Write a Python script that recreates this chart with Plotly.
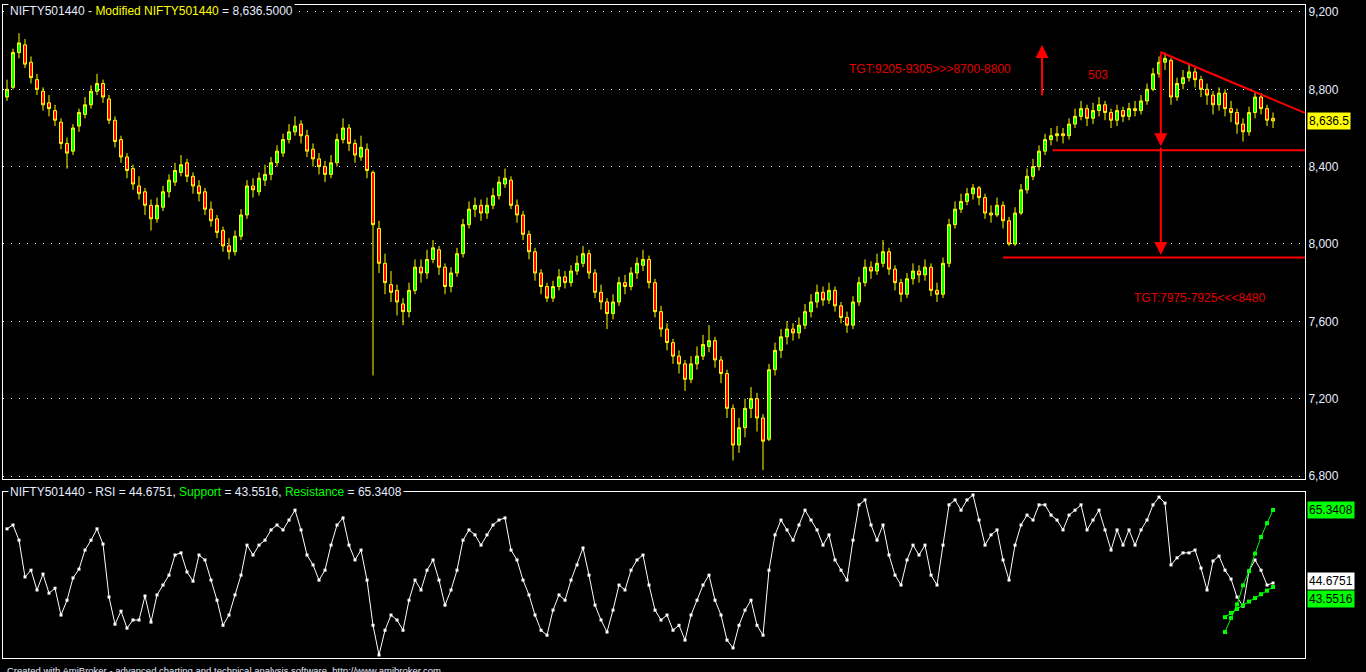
import plotly.graph_objects as go

# bar index (daily bars, oldest first)
bars = list(range(212))

open_ = [8760, 8810, 8990, 9030, 8940, 8850, 8790, 8730, 8690, 8630,
         8520, 8480, 8610, 8670, 8720, 8790, 8830, 8750, 8640, 8540,
         8450, 8390, 8300, 8270, 8200, 8130, 8190, 8270, 8320, 8370,
         8420, 8350, 8300, 8270, 8180, 8130, 8070, 7990, 7960, 8040,
         8150, 8300, 8270, 8330, 8360, 8420, 8470, 8540, 8580, 8620,
         8560, 8490, 8440, 8400, 8360, 8420, 8540, 8600, 8520, 8450,
         8490, 8370, 8080, 7900, 7790, 7760, 7690, 7650, 7760, 7880,
         7850, 7920, 7970, 7880, 7780, 7850, 7950, 8100, 8180, 8200,
         8160, 8200, 8250, 8310, 8330, 8200, 8150, 8050, 7960, 7850,
         7780, 7720, 7780, 7830, 7800, 7860, 7900, 7950, 7850, 7750,
         7700, 7640, 7700, 7800, 7780, 7850, 7890, 7920, 7800, 7650,
         7560, 7490, 7420, 7380, 7300, 7380, 7420, 7470, 7500, 7400,
         7330, 7150, 6960, 7050, 7150, 7200, 7100, 6990, 7350, 7450,
         7520, 7560, 7540, 7580, 7650, 7700, 7750, 7710, 7760, 7680,
         7620, 7580, 7700, 7800, 7880, 7860, 7900, 7960, 7870, 7800,
         7740, 7820, 7860, 7840, 7880, 7760, 7740, 7900, 8100, 8180,
         8220, 8260, 8290, 8240, 8160, 8150, 8200, 8120, 8000, 8160,
         8280, 8350, 8400, 8480, 8540, 8560, 8570, 8560, 8620, 8660,
         8700, 8650, 8690, 8720, 8680, 8640, 8690, 8660, 8700, 8690,
         8740, 8800, 8880, 8940, 8950, 8760, 8830, 8860, 8890, 8850,
         8800, 8770, 8720, 8780, 8700, 8680, 8620, 8580, 8680, 8760,
         8700, 8650]

high = [8850, 9010, 9090, 9060, 8970, 8880, 8810, 8770, 8720, 8650,
        8550, 8620, 8700, 8760, 8820, 8880, 8850, 8770, 8660, 8560,
        8470, 8410, 8350, 8290, 8230, 8240, 8300, 8360, 8420, 8460,
        8440, 8370, 8330, 8290, 8220, 8150, 8090, 8030, 8070, 8180,
        8330, 8340, 8370, 8410, 8450, 8510, 8570, 8620, 8660, 8640,
        8590, 8520, 8470, 8430, 8460, 8570, 8650, 8620, 8540, 8560,
        8520, 8380, 8120, 7950, 7860, 7790, 7720, 7800, 7920, 7920,
        7970, 8020, 7990, 7900, 7880, 7980, 8130, 8220, 8240, 8230,
        8240, 8290, 8350, 8390, 8350, 8230, 8170, 8070, 7980, 7870,
        7800, 7810, 7870, 7860, 7890, 7940, 7990, 7970, 7870, 7790,
        7720, 7740, 7830, 7840, 7880, 7930, 7970, 7940, 7820, 7680,
        7590, 7510, 7450, 7400, 7420, 7470, 7530, 7580, 7520, 7420,
        7350, 7170, 7100, 7200, 7260, 7230, 7120, 7380, 7490, 7560,
        7600, 7590, 7620, 7690, 7740, 7790, 7780, 7800, 7780, 7700,
        7650, 7730, 7830, 7920, 7910, 7950, 8020, 7980, 7890, 7820,
        7850, 7900, 7890, 7920, 7900, 7800, 7930, 8130, 8220, 8260,
        8290, 8310, 8300, 8260, 8200, 8240, 8220, 8140, 8190, 8310,
        8390, 8440, 8510, 8570, 8600, 8610, 8600, 8650, 8700, 8740,
        8720, 8730, 8760, 8740, 8700, 8720, 8710, 8730, 8740, 8770,
        8830, 8910, 8970, 8990, 8960, 8860, 8900, 8930, 8910, 8870,
        8830, 8790, 8810, 8800, 8740, 8700, 8650, 8710, 8790, 8780,
        8720, 8680]

low = [8740, 8800, 8960, 8910, 8830, 8770, 8690, 8660, 8610, 8490,
       8390, 8460, 8580, 8650, 8700, 8770, 8730, 8620, 8500, 8420,
       8340, 8280, 8230, 8150, 8070, 8110, 8170, 8240, 8300, 8350,
       8320, 8260, 8220, 8150, 8090, 8030, 7960, 7920, 7940, 8020,
       8130, 8240, 8250, 8300, 8330, 8400, 8450, 8520, 8560, 8520,
       8450, 8400, 8360, 8320, 8340, 8400, 8520, 8480, 8420, 8430,
       8340, 7320, 7850, 7740, 7700, 7630, 7580, 7620, 7740, 7800,
       7820, 7900, 7840, 7740, 7750, 7830, 7930, 8080, 8140, 8120,
       8130, 8180, 8230, 8290, 8180, 8110, 8020, 7920, 7810, 7740,
       7700, 7700, 7760, 7770, 7780, 7840, 7880, 7820, 7720, 7660,
       7560, 7610, 7680, 7740, 7760, 7820, 7860, 7770, 7620, 7520,
       7450, 7380, 7330, 7240, 7280, 7350, 7400, 7440, 7360, 7280,
       7100, 6880, 6920, 7000, 7100, 7030, 6830, 6980, 7320, 7410,
       7480, 7500, 7510, 7560, 7620, 7670, 7680, 7690, 7650, 7590,
       7540, 7560, 7680, 7780, 7820, 7840, 7880, 7840, 7760, 7700,
       7720, 7790, 7800, 7810, 7730, 7700, 7720, 7880, 8080, 8160,
       8200, 8230, 8200, 8130, 8110, 8140, 8080, 7990, 7990, 8150,
       8260, 8330, 8380, 8460, 8510, 8530, 8520, 8540, 8600, 8640,
       8610, 8620, 8660, 8640, 8600, 8610, 8630, 8640, 8660, 8670,
       8720, 8790, 8860, 8900, 8720, 8740, 8800, 8840, 8810, 8760,
       8720, 8670, 8690, 8660, 8630, 8570, 8530, 8560, 8650, 8670,
       8610, 8600]

close = [8800, 8990, 9040, 8930, 8860, 8800, 8720, 8700, 8640, 8520,
         8470, 8600, 8680, 8720, 8790, 8830, 8760, 8640, 8530, 8450,
         8380, 8310, 8260, 8200, 8130, 8200, 8270, 8330, 8380, 8410,
         8350, 8300, 8260, 8180, 8120, 8060, 7990, 7960, 8040, 8150,
         8300, 8280, 8340, 8360, 8420, 8480, 8540, 8580, 8610, 8560,
         8480, 8440, 8400, 8360, 8420, 8540, 8600, 8520, 8460, 8500,
         8380, 8100, 7900, 7800, 7750, 7700, 7650, 7760, 7880, 7850,
         7920, 7980, 7880, 7780, 7850, 7950, 8100, 8180, 8200, 8160,
         8200, 8250, 8320, 8340, 8200, 8150, 8050, 7960, 7850, 7780,
         7720, 7780, 7830, 7800, 7860, 7900, 7950, 7850, 7750, 7700,
         7640, 7700, 7800, 7780, 7850, 7900, 7920, 7800, 7650, 7560,
         7490, 7420, 7380, 7300, 7380, 7420, 7480, 7500, 7400, 7330,
         7150, 6960, 7050, 7150, 7200, 7100, 6980, 7350, 7450, 7520,
         7560, 7540, 7580, 7650, 7700, 7750, 7710, 7760, 7680, 7620,
         7580, 7700, 7800, 7880, 7860, 7900, 7960, 7870, 7800, 7740,
         7820, 7860, 7840, 7880, 7760, 7740, 7900, 8100, 8180, 8220,
         8260, 8290, 8240, 8160, 8150, 8200, 8120, 8000, 8160, 8280,
         8350, 8400, 8480, 8540, 8560, 8570, 8560, 8620, 8660, 8700,
         8650, 8690, 8720, 8680, 8640, 8690, 8660, 8700, 8690, 8740,
         8800, 8880, 8940, 8960, 8760, 8830, 8860, 8890, 8850, 8800,
         8770, 8720, 8780, 8700, 8680, 8620, 8580, 8680, 8760, 8700,
         8640, 8636.5]

rsi = [60.0, 61.1, 56.8, 46.4, 48.3, 42.7, 47.2, 41.8, 43.2, 35.6,
       39.8, 46.1, 48.6, 54.0, 56.8, 60.0, 55.7, 40.7, 33.0, 36.7,
       31.9, 34.2, 34.2, 41.0, 33.6, 41.3, 44.1, 46.9, 52.6, 53.2,
       47.8, 45.2, 52.6, 51.2, 45.5, 39.8, 32.7, 35.6, 41.3, 46.9,
       55.4, 52.6, 55.4, 56.8, 59.7, 61.1, 59.7, 62.5, 65.3, 59.7,
       52.6, 49.8, 45.5, 48.3, 55.4, 61.1, 63.1, 55.4, 51.2, 54.0,
       45.5, 32.7, 24.3, 31.3, 35.6, 34.2, 31.3, 39.8, 45.5, 42.7,
       48.3, 51.2, 45.5, 38.4, 42.7, 48.3, 56.8, 59.7, 58.3, 55.4,
       58.3, 61.1, 62.5, 63.1, 54.0, 51.2, 45.5, 41.3, 35.6, 31.3,
       29.9, 37.0, 41.3, 39.8, 45.5, 49.8, 54.6, 46.9, 38.4, 34.2,
       30.8, 37.0, 44.1, 42.7, 48.3, 51.2, 52.6, 44.1, 37.0, 34.2,
       35.6, 31.3, 32.7, 28.5, 35.6, 39.8, 44.1, 46.9, 39.8, 35.6,
       28.5, 26.3, 32.7, 37.0, 39.8, 32.7, 29.9, 48.3, 58.3, 62.5,
       59.7, 56.8, 61.1, 65.3, 62.5, 59.7, 55.4, 58.3, 51.2, 48.3,
       45.5, 56.8, 66.8, 68.2, 61.1, 56.8, 61.1, 52.6, 46.9, 44.1,
       51.2, 55.4, 52.6, 55.4, 46.9, 44.1, 55.4, 66.8, 68.2, 65.3,
       68.2, 69.6, 62.5, 55.4, 58.3, 59.7, 51.2, 45.5, 55.4, 61.1,
       63.9, 62.5, 66.8, 66.8, 63.9, 62.5, 59.7, 63.9, 65.3, 66.8,
       59.7, 62.5, 65.3, 59.7, 54.0, 59.7, 55.4, 59.7, 55.4, 59.7,
       62.5, 66.8, 69.0, 67.3, 49.8, 51.8, 53.2, 53.2, 54.0, 48.9,
       42.7, 50.9, 52.3, 48.3, 45.8, 40.7, 38.1, 48.1, 51.2, 48.3,
       44.1, 44.6751]

# RSI trend lines drawn over the last bars
trend_bars = [203, 204, 205, 206, 207, 208, 209, 210, 211]
resistance = [30.8, 34.8, 38.6, 44.0, 48.0, 53.0, 57.7, 61.6, 65.3408]
support = [35.0, 36.2, 37.3, 38.4, 39.4, 40.4, 41.5, 42.5, 43.5516]

price_ticks = [6800, 7200, 7600, 8000, 8400, 8800, 9200]
last_price = 8636.5
last_rsi = 44.6751

FONT = "Arial, Liberation Sans, sans-serif"
X_RANGE = [-0.667, 216.33]


def px_x(p):
    # pixel column -> paper x (plot area spans 3..1305)
    return (p - 3) / 1302


def px_y(p):
    # pixel row -> paper y (plot area spans 5..658)
    return (658 - p) / 653


fig = go.Figure()

fig.add_trace(go.Candlestick(
    x=bars, open=open_, high=high, low=low, close=close,
    increasing=dict(line=dict(color="#FFFF00", width=1), fillcolor="#00FF00"),
    decreasing=dict(line=dict(color="#FFFF00", width=1), fillcolor="#FF0000"),
    hoverinfo="skip", xaxis="x", yaxis="y"
))

fig.add_trace(go.Scatter(
    x=bars, y=rsi, mode="lines+markers",
    line=dict(color="white", width=1),
    marker=dict(symbol="square", size=3, color="white"),
    hoverinfo="skip", xaxis="x2", yaxis="y2"
))

for vals in (resistance, support):
    fig.add_trace(go.Scatter(
        x=trend_bars, y=vals, mode="lines+markers",
        line=dict(color="#00FF00", width=1),
        marker=dict(symbol="square", size=4, color="#00FF00"),
        hoverinfo="skip", xaxis="x2", yaxis="y2"
    ))

frame = dict(showline=True, mirror=True, linecolor="white", linewidth=1, zeroline=False)

fig.update_layout(
    width=1366, height=672,
    margin=dict(l=3, r=61, t=5, b=14),
    paper_bgcolor="#000000", plot_bgcolor="#000000",
    showlegend=False, hovermode=False, boxgap=0.3,
    xaxis=dict(domain=[0, 1], range=X_RANGE, anchor="y", showticklabels=False,
               showgrid=False, rangeslider=dict(visible=False), **frame),
    yaxis=dict(domain=[px_y(479), 1], range=[6784.5, 9236], side="right", anchor="x",
               tickvals=price_ticks, ticktext=[f"{v:,}" for v in price_ticks],
               tickfont=dict(family=FONT, size=12, color="#E6ECFF"), ticks="",
               showgrid=True, gridcolor="white", gridwidth=1, griddash="1px,7px", **frame),
    xaxis2=dict(domain=[0, 1], range=X_RANGE, anchor="y2", showticklabels=False,
                showgrid=False, **frame),
    yaxis2=dict(domain=[0, px_y(492)], range=[23.44, 70.44], anchor="x2",
                showticklabels=False, showgrid=False, **frame),
)

red = "#FF0000"
red_text = "#E00000"

# trend lines on the price panel
fig.add_shape(type="line", xref="x", yref="y", x0=192.2, y0=8993, x1=216.3, y1=8678,
              line=dict(color=red, width=2))
fig.add_shape(type="line", xref="x", yref="y", x0=174.3, y0=8485, x1=216.5, y1=8485,
              line=dict(color=red, width=2))
fig.add_shape(type="line", xref="x", yref="y", x0=166.0, y0=7930, x1=216.5, y1=7930,
              line=dict(color=red, width=2))

arrow = dict(xref="x", yref="y", axref="x", ayref="y", text="", showarrow=True,
             arrowhead=2, arrowsize=1.3, arrowwidth=2, arrowcolor=red)
fig.add_annotation(x=172.5, y=9029, ax=172.5, ay=8760, **arrow)
fig.add_annotation(x=192.3, y=8505, ax=192.3, ay=8993, **arrow)
fig.add_annotation(x=192.3, y=7943, ax=192.3, ay=8505, **arrow)

txt = dict(xref="x", yref="y", showarrow=False, font=dict(family=FONT, size=12, color=red_text))
fig.add_annotation(x=153.8, y=8905, text="TGT:9205-9305&gt;&gt;&gt;8700-8800", **txt)
fig.add_annotation(x=181.8, y=8874, text="503", **txt)
fig.add_annotation(x=198.8, y=7721, text="TGT:7975-7925&lt;&lt;&lt;8480", **txt)

# panel titles
fig.add_annotation(
    xref="paper", yref="paper", x=px_x(8), y=px_y(11), xanchor="left", yanchor="middle",
    text="NIFTY501440 - <span style='color:#FFFF00'>Modified NIFTY501440</span> = 8,636.5000",
    showarrow=False, bgcolor="#000000", borderpad=1,
    font=dict(family=FONT, size=12, color="#E6ECFF"))
fig.add_annotation(
    xref="paper", yref="paper", x=px_x(8), y=px_y(492), xanchor="left", yanchor="middle",
    text=("NIFTY501440 - RSI = 44.6751, <span style='color:#00FF00'>Support</span> = 43.5516, "
          "<span style='color:#00FF00'>Resistance</span> = 65.3408"),
    showarrow=False, bgcolor="#000000", borderpad=1,
    font=dict(family=FONT, size=12, color="#E6ECFF"))

# value labels on the right
lab = dict(xref="paper", x=1, xanchor="left", xshift=2, showarrow=False, borderpad=1,
           font=dict(family=FONT, size=12, color="#000000"))
fig.add_annotation(yref="y", y=last_price, text="8,636.5", bgcolor="#FFFF00", **lab)
fig.add_annotation(yref="y2", y=resistance[-1], text="65.3408", bgcolor="#00FF00", **lab)
fig.add_annotation(yref="y2", y=last_rsi, yshift=2, text="44.6751", bgcolor="#FFFFFF", **lab)
fig.add_annotation(yref="y2", y=support[-1], yshift=-12, text="43.5516", bgcolor="#00FF00", **lab)

fig.add_annotation(
    xref="paper", yref="paper", x=px_x(5), y=px_y(663), xanchor="left", yanchor="top",
    text="Created with AmiBroker - advanced charting and technical analysis software. http://www.amibroker.com",
    showarrow=False, font=dict(family=FONT, size=9.5, color="#E6ECFF"))

# the page's default body margin would shift the figure by 8px
fig.write_html("out.html", config={"displayModeBar": False},
               post_script="document.body.style.margin='0';document.body.style.overflow='hidden';")
